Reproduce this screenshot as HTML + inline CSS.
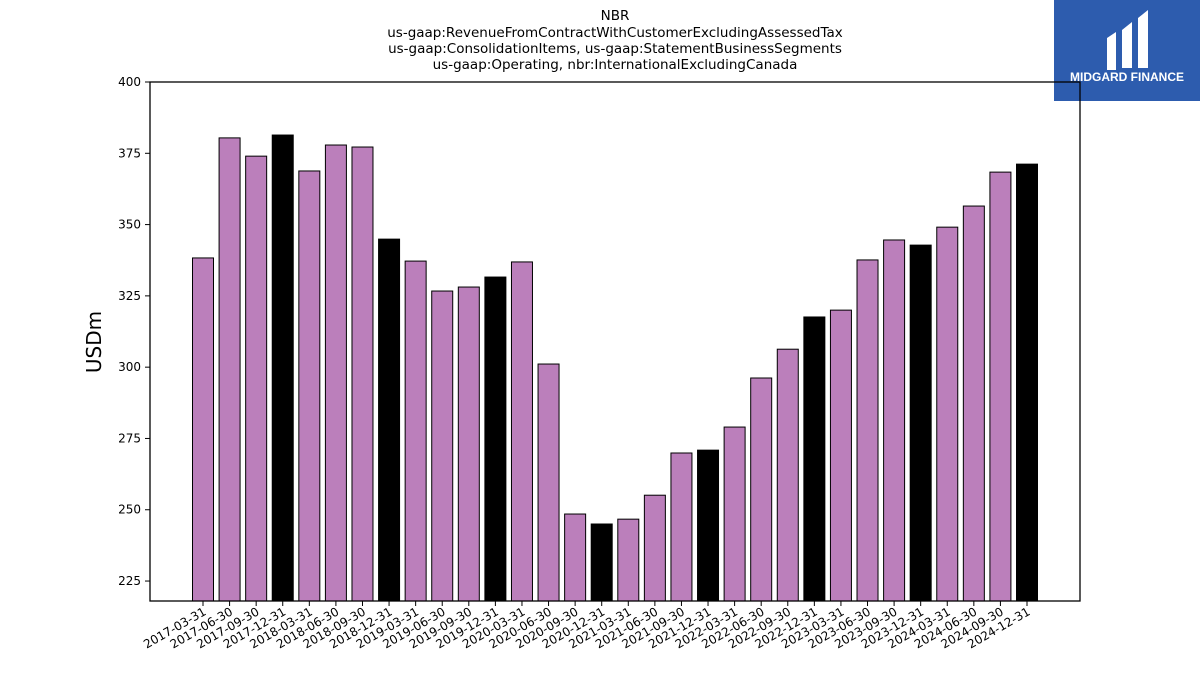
<!DOCTYPE html>
<html><head><meta charset="utf-8"><style>
body{margin:0;background:#fff;font-family:"Liberation Sans","DejaVu Sans",sans-serif}
</style></head><body>
<svg width="1200" height="675" xmlns="http://www.w3.org/2000/svg">
<g font-family="DejaVu Sans, Liberation Sans, sans-serif" font-size="13.5" text-anchor="middle" fill="#000">
<text x="615" y="20">NBR</text>
<text x="615" y="37">us-gaap:RevenueFromContractWithCustomerExcludingAssessedTax</text>
<text x="615" y="53">us-gaap:ConsolidationItems, us-gaap:StatementBusinessSegments</text>
<text x="615" y="69">us-gaap:Operating, nbr:InternationalExcludingCanada</text>
</g>
<g>
<rect x="1054" y="0" width="146" height="101" fill="#2d5cae"/>
<path d="M1107 38 L1116 32 L1116 70 L1107 70 Z M1122 30 L1132 22 L1132 68 L1122 68 Z M1138 18 L1148 10 L1148 68 L1138 68 Z" fill="#fff"/>
<text x="1127" y="81" font-size="12" font-weight="bold" fill="#fff" text-anchor="middle">MIDGARD FINANCE</text>
</g>
<text transform="translate(101,342) rotate(-90)" font-size="20" text-anchor="middle" font-family="DejaVu Sans, sans-serif">USDm</text>
<g id="bars"></g>
<g id="axes"></g>
</svg>
<script>
const categories=["2017-03-31","2017-06-30","2017-09-30","2017-12-31","2018-03-31","2018-06-30","2018-09-30","2018-12-31","2019-03-31","2019-06-30","2019-09-30","2019-12-31","2020-03-31","2020-06-30","2020-09-30","2020-12-31","2021-03-31","2021-06-30","2021-09-30","2021-12-31","2022-03-31","2022-06-30","2022-09-30","2022-12-31","2023-03-31","2023-06-30","2023-09-30","2023-12-31","2024-03-31","2024-06-30","2024-09-30","2024-12-31"];
const values=[338.3,380.4,374.0,381.4,368.8,377.9,377.2,344.9,337.2,326.7,328.1,331.6,336.9,301.1,248.5,245.0,246.7,255.1,269.9,270.9,279.0,296.2,306.3,317.6,320.0,337.6,344.6,342.8,349.1,356.5,368.4,371.2];
const yTicks=[225,250,275,300,325,350,375,400];
const NS="http://www.w3.org/2000/svg";
const L=150,R=1080,T=82,B=601,yMin=218,yMax=400;
const y=v=>B-(v-yMin)/(yMax-yMin)*(B-T);
const x=i=>203+i*(1027-203)/(categories.length-1);
const bw=21;
const bars=document.getElementById('bars'),axes=document.getElementById('axes');
function mk(tag,attrs,parent){const e=document.createElementNS(NS,tag);for(const k in attrs)e.setAttribute(k,attrs[k]);parent.appendChild(e);return e;}
values.forEach((v,i)=>{
 const r=mk('rect',{x:x(i)-bw/2,y:y(v),width:bw,height:B-y(v),fill:(i%4===3)?'#000':'#bb7fbb',stroke:'#000','stroke-width':1},bars);
 
 
 mk('line',{x1:x(i),x2:x(i),y1:B,y2:B+5,stroke:'#000'},axes);
 const t=mk('text',{transform:`translate(${x(i)+4},${B+13}) rotate(-30)`,'text-anchor':'end','font-size':12,'font-family':'DejaVu Sans, sans-serif'},axes);
 t.textContent=categories[i];
 
 
});
yTicks.forEach(v=>{
 mk('line',{x1:L-5,x2:L,y1:y(v),y2:y(v),stroke:'#000'},axes);
 const t=mk('text',{x:L-9,y:y(v)+4,'text-anchor':'end','font-size':12,'font-family':'DejaVu Sans, sans-serif'},axes);
 t.textContent=v;
 
 
});
const f=mk('rect',{x:L,y:T,width:R-L,height:B-T,fill:'none',stroke:'#000','stroke-width':1.3},axes);


</script>
</body></html>
